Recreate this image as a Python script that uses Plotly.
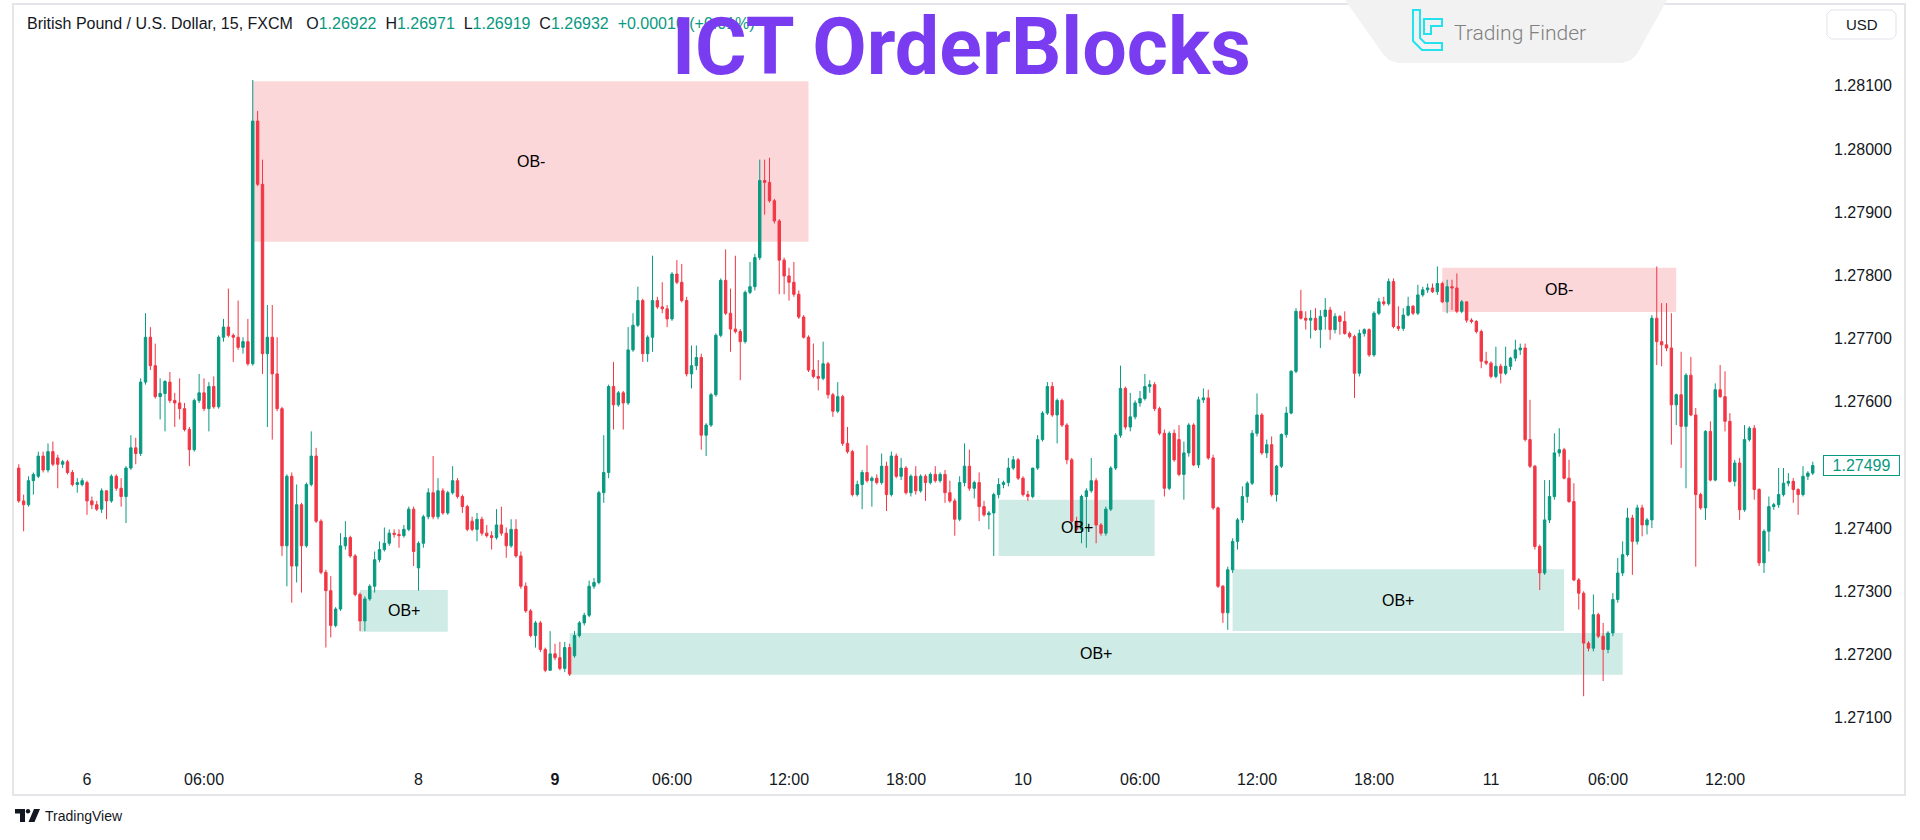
import plotly.graph_objects as go

# ---------------- data (15-minute GBP/USD candles) ----------------
opens = [
    1.27495, 1.27443, 1.27437, 1.27475, 1.27482, 1.27514, 1.27492, 1.27521, 1.27511, 1.27501,
    1.27505, 1.27488, 1.27469, 1.27469, 1.27472, 1.27443, 1.27437, 1.27430, 1.27459, 1.27443,
    1.27482, 1.27463, 1.27450, 1.27495, 1.27527, 1.27518, 1.27631, 1.27702, 1.27657, 1.27608,
    1.27613, 1.27631, 1.27602, 1.27598, 1.27589, 1.27556, 1.27524, 1.27602, 1.27614, 1.27589,
    1.27624, 1.27592, 1.27702, 1.27718, 1.27705, 1.27702, 1.27686, 1.27695, 1.27660, 1.28044,
    1.27944, 1.27676, 1.27702, 1.27644, 1.27589, 1.27372, 1.27482, 1.27340, 1.27437, 1.27372,
    1.27469, 1.27514, 1.27411, 1.27330, 1.27301, 1.27246, 1.27272, 1.27372, 1.27385, 1.27356,
    1.27295, 1.27253, 1.27288, 1.27308, 1.27350, 1.27366, 1.27376, 1.27392, 1.27390, 1.27388,
    1.27398, 1.27430, 1.27337, 1.27376, 1.27418, 1.27456, 1.27418, 1.27459, 1.27424, 1.27456,
    1.27475, 1.27450, 1.27434, 1.27411, 1.27398, 1.27414, 1.27392, 1.27388, 1.27385, 1.27405,
    1.27392, 1.27372, 1.27398, 1.27356, 1.27308, 1.27269, 1.27230, 1.27250, 1.27208, 1.27175,
    1.27201, 1.27195, 1.27178, 1.27211, 1.27198, 1.27230, 1.27250, 1.27262, 1.27308, 1.27314,
    1.27456, 1.27488, 1.27624, 1.27595, 1.27614, 1.27598, 1.27682, 1.27721, 1.27760, 1.27676,
    1.27702, 1.27760, 1.27750, 1.27747, 1.27731, 1.27802, 1.27789, 1.27760, 1.27644, 1.27657,
    1.27670, 1.27547, 1.27563, 1.27611, 1.27705, 1.27792, 1.27740, 1.27715, 1.27711, 1.27695,
    1.27773, 1.27782, 1.27828, 1.27950, 1.27947, 1.27918, 1.27886, 1.27824, 1.27799, 1.27789,
    1.27770, 1.27734, 1.27702, 1.27650, 1.27640, 1.27637, 1.27660, 1.27611, 1.27585, 1.27608,
    1.27534, 1.27521, 1.27453, 1.27469, 1.27488, 1.27475, 1.27479, 1.27472, 1.27498, 1.27453,
    1.27514, 1.27482, 1.27495, 1.27456, 1.27482, 1.27459, 1.27482, 1.27472, 1.27485, 1.27475,
    1.27485, 1.27456, 1.27443, 1.27414, 1.27472, 1.27498, 1.27463, 1.27472, 1.27434, 1.27421,
    1.27424, 1.27453, 1.27469, 1.27472, 1.27495, 1.27508, 1.27479, 1.27453, 1.27450, 1.27495,
    1.27540, 1.27582, 1.27624, 1.27579, 1.27602, 1.27563, 1.27508, 1.27411, 1.27398, 1.27450,
    1.27459, 1.27475, 1.27405, 1.27392, 1.27430, 1.27495, 1.27547, 1.27621, 1.27560, 1.27576,
    1.27598, 1.27605, 1.27624, 1.27627, 1.27589, 1.27550, 1.27463, 1.27550, 1.27540, 1.27485,
    1.27519, 1.27563, 1.27500, 1.27603, 1.27606, 1.27511, 1.27432, 1.27308, 1.27266, 1.27334,
    1.27379, 1.27413, 1.27450, 1.27471, 1.27550, 1.27579, 1.27519, 1.27532, 1.27453, 1.27498,
    1.27548, 1.27582, 1.27648, 1.27743, 1.27732, 1.27729, 1.27732, 1.27714, 1.27735, 1.27745,
    1.27714, 1.27735, 1.27727, 1.27708, 1.27703, 1.27645, 1.27708, 1.27714, 1.27674, 1.27740,
    1.27758, 1.27755, 1.27790, 1.27719, 1.27716, 1.27737, 1.27751, 1.27740, 1.27769, 1.27777,
    1.27780, 1.27774, 1.27787, 1.27758, 1.27782, 1.27780, 1.27743, 1.27758, 1.27729, 1.27727,
    1.27711, 1.27664, 1.27661, 1.27640, 1.27656, 1.27645, 1.27656, 1.27669, 1.27682, 1.27685,
    1.27540, 1.27498, 1.27371, 1.27329, 1.27413, 1.27450, 1.27519, 1.27524, 1.27479, 1.27442,
    1.27318, 1.27297, 1.27218, 1.27210, 1.27263, 1.27229, 1.27208, 1.27234, 1.27287, 1.27329,
    1.27358, 1.27416, 1.27379, 1.27432, 1.27405, 1.27413, 1.27732, 1.27695, 1.27690, 1.27685,
    1.27595, 1.27611, 1.27561, 1.27642, 1.27579, 1.27453, 1.27432, 1.27553, 1.27476, 1.27619,
    1.27608, 1.27569, 1.27474, 1.27503, 1.27429, 1.27540, 1.27558, 1.27461, 1.27345, 1.27395,
    1.27434, 1.27437, 1.27453, 1.27471, 1.27474, 1.27461, 1.27453, 1.27482, 1.27487,
]
highs = [
    1.27501, 1.27453, 1.27482, 1.27488, 1.27521, 1.27521, 1.27534, 1.27537, 1.27516, 1.27508,
    1.27508, 1.27492, 1.27479, 1.27479, 1.27475, 1.27450, 1.27443, 1.27463, 1.27459, 1.27485,
    1.27485, 1.27479, 1.27498, 1.27547, 1.27543, 1.27637, 1.27740, 1.27718, 1.27692, 1.27637,
    1.27634, 1.27647, 1.27614, 1.27637, 1.27598, 1.27560, 1.27605, 1.27644, 1.27637, 1.27631,
    1.27640, 1.27705, 1.27731, 1.27779, 1.27708, 1.27760, 1.27702, 1.27731, 1.28109, 1.28060,
    1.27983, 1.27753, 1.27753, 1.27702, 1.27592, 1.27485, 1.27488, 1.27469, 1.27440, 1.27472,
    1.27553, 1.27527, 1.27414, 1.27334, 1.27324, 1.27275, 1.27392, 1.27411, 1.27388, 1.27359,
    1.27298, 1.27292, 1.27311, 1.27363, 1.27379, 1.27401, 1.27398, 1.27398, 1.27398, 1.27405,
    1.27434, 1.27434, 1.27379, 1.27421, 1.27463, 1.27514, 1.27479, 1.27463, 1.27459, 1.27498,
    1.27479, 1.27453, 1.27437, 1.27418, 1.27424, 1.27418, 1.27405, 1.27395, 1.27430, 1.27434,
    1.27401, 1.27414, 1.27414, 1.27363, 1.27314, 1.27272, 1.27253, 1.27253, 1.27211, 1.27237,
    1.27217, 1.27220, 1.27220, 1.27217, 1.27237, 1.27253, 1.27266, 1.27317, 1.27321, 1.27459,
    1.27547, 1.27627, 1.27663, 1.27617, 1.27617, 1.27718, 1.27740, 1.27782, 1.27763, 1.27705,
    1.27831, 1.27766, 1.27789, 1.27753, 1.27805, 1.27824, 1.27818, 1.27766, 1.27689, 1.27689,
    1.27676, 1.27566, 1.27614, 1.27708, 1.27795, 1.27841, 1.27779, 1.27831, 1.27715, 1.27776,
    1.27821, 1.27834, 1.27983, 1.27983, 1.27986, 1.27921, 1.27889, 1.27828, 1.27812, 1.27821,
    1.27776, 1.27737, 1.27705, 1.27692, 1.27666, 1.27695, 1.27663, 1.27614, 1.27631, 1.27611,
    1.27560, 1.27524, 1.27475, 1.27492, 1.27531, 1.27482, 1.27485, 1.27518, 1.27505, 1.27521,
    1.27518, 1.27511, 1.27498, 1.27485, 1.27498, 1.27485, 1.27485, 1.27488, 1.27498, 1.27488,
    1.27492, 1.27475, 1.27447, 1.27482, 1.27534, 1.27524, 1.27475, 1.27488, 1.27443, 1.27427,
    1.27456, 1.27479, 1.27475, 1.27511, 1.27514, 1.27511, 1.27482, 1.27459, 1.27495, 1.27547,
    1.27585, 1.27631, 1.27631, 1.27605, 1.27605, 1.27566, 1.27511, 1.27418, 1.27453, 1.27463,
    1.27511, 1.27479, 1.27408, 1.27434, 1.27498, 1.27550, 1.27657, 1.27624, 1.27614, 1.27602,
    1.27617, 1.27644, 1.27634, 1.27631, 1.27592, 1.27556, 1.27553, 1.27556, 1.27563, 1.27537,
    1.27566, 1.27566, 1.27608, 1.27621, 1.27619, 1.27516, 1.27434, 1.27310, 1.27339, 1.27384,
    1.27416, 1.27466, 1.27474, 1.27555, 1.27613, 1.27582, 1.27540, 1.27545, 1.27500, 1.27550,
    1.27592, 1.27650, 1.27748, 1.27777, 1.27743, 1.27745, 1.27748, 1.27745, 1.27764, 1.27750,
    1.27740, 1.27737, 1.27743, 1.27711, 1.27706, 1.27714, 1.27716, 1.27716, 1.27743, 1.27764,
    1.27766, 1.27795, 1.27795, 1.27751, 1.27748, 1.27766, 1.27753, 1.27785, 1.27782, 1.27787,
    1.27787, 1.27814, 1.27790, 1.27793, 1.27793, 1.27803, 1.27761, 1.27758, 1.27732, 1.27729,
    1.27714, 1.27679, 1.27664, 1.27687, 1.27660, 1.27687, 1.27671, 1.27698, 1.27692, 1.27692,
    1.27603, 1.27500, 1.27374, 1.27476, 1.27476, 1.27550, 1.27558, 1.27527, 1.27508, 1.27471,
    1.27321, 1.27300, 1.27221, 1.27295, 1.27266, 1.27250, 1.27237, 1.27297, 1.27353, 1.27379,
    1.27432, 1.27421, 1.27437, 1.27437, 1.27416, 1.27737, 1.27814, 1.27756, 1.27756, 1.27740,
    1.27613, 1.27679, 1.27645, 1.27671, 1.27590, 1.27456, 1.27555, 1.27569, 1.27629, 1.27658,
    1.27648, 1.27582, 1.27508, 1.27511, 1.27563, 1.27561, 1.27563, 1.27463, 1.27398, 1.27450,
    1.27440, 1.27495, 1.27495, 1.27487, 1.27479, 1.27463, 1.27498, 1.27490, 1.27505,
]
lows = [
    1.27440, 1.27395, 1.27434, 1.27453, 1.27479, 1.27488, 1.27488, 1.27498, 1.27463, 1.27495,
    1.27485, 1.27466, 1.27456, 1.27466, 1.27421, 1.27430, 1.27427, 1.27424, 1.27414, 1.27440,
    1.27459, 1.27434, 1.27408, 1.27492, 1.27501, 1.27514, 1.27627, 1.27650, 1.27605, 1.27572,
    1.27553, 1.27598, 1.27560, 1.27572, 1.27553, 1.27498, 1.27521, 1.27598, 1.27585, 1.27553,
    1.27589, 1.27589, 1.27695, 1.27702, 1.27663, 1.27682, 1.27676, 1.27657, 1.27657, 1.27941,
    1.27644, 1.27560, 1.27540, 1.27585, 1.27356, 1.27308, 1.27282, 1.27314, 1.27298, 1.27369,
    1.27466, 1.27408, 1.27327, 1.27211, 1.27227, 1.27243, 1.27269, 1.27366, 1.27353, 1.27292,
    1.27237, 1.27237, 1.27285, 1.27298, 1.27346, 1.27363, 1.27372, 1.27385, 1.27369, 1.27385,
    1.27395, 1.27340, 1.27301, 1.27369, 1.27414, 1.27414, 1.27414, 1.27421, 1.27421, 1.27453,
    1.27447, 1.27424, 1.27395, 1.27395, 1.27379, 1.27388, 1.27385, 1.27366, 1.27382, 1.27388,
    1.27353, 1.27369, 1.27353, 1.27304, 1.27266, 1.27227, 1.27211, 1.27204, 1.27172, 1.27175,
    1.27191, 1.27175, 1.27172, 1.27166, 1.27195, 1.27227, 1.27246, 1.27259, 1.27304, 1.27311,
    1.27440, 1.27479, 1.27556, 1.27592, 1.27556, 1.27595, 1.27679, 1.27718, 1.27663, 1.27663,
    1.27679, 1.27747, 1.27740, 1.27718, 1.27728, 1.27786, 1.27757, 1.27640, 1.27621, 1.27650,
    1.27524, 1.27514, 1.27560, 1.27608, 1.27702, 1.27737, 1.27679, 1.27708, 1.27634, 1.27692,
    1.27770, 1.27776, 1.27824, 1.27896, 1.27915, 1.27882, 1.27770, 1.27770, 1.27760, 1.27766,
    1.27731, 1.27700, 1.27647, 1.27637, 1.27618, 1.27634, 1.27605, 1.27576, 1.27582, 1.27530,
    1.27518, 1.27450, 1.27450, 1.27430, 1.27472, 1.27434, 1.27469, 1.27469, 1.27427, 1.27450,
    1.27479, 1.27476, 1.27453, 1.27450, 1.27453, 1.27456, 1.27443, 1.27469, 1.27472, 1.27472,
    1.27440, 1.27440, 1.27388, 1.27411, 1.27466, 1.27459, 1.27447, 1.27411, 1.27418, 1.27398,
    1.27356, 1.27447, 1.27463, 1.27466, 1.27492, 1.27476, 1.27450, 1.27443, 1.27447, 1.27492,
    1.27537, 1.27579, 1.27576, 1.27534, 1.27560, 1.27501, 1.27408, 1.27395, 1.27376, 1.27369,
    1.27456, 1.27376, 1.27388, 1.27388, 1.27427, 1.27492, 1.27543, 1.27556, 1.27553, 1.27572,
    1.27592, 1.27602, 1.27614, 1.27585, 1.27547, 1.27450, 1.27460, 1.27505, 1.27482, 1.27445,
    1.27513, 1.27498, 1.27495, 1.27598, 1.27508, 1.27429, 1.27305, 1.27250, 1.27239, 1.27329,
    1.27366, 1.27408, 1.27440, 1.27468, 1.27545, 1.27516, 1.27511, 1.27450, 1.27442, 1.27495,
    1.27543, 1.27580, 1.27645, 1.27730, 1.27714, 1.27700, 1.27712, 1.27685, 1.27714, 1.27698,
    1.27708, 1.27706, 1.27706, 1.27700, 1.27606, 1.27640, 1.27703, 1.27671, 1.27671, 1.27737,
    1.27752, 1.27752, 1.27716, 1.27712, 1.27712, 1.27735, 1.27737, 1.27737, 1.27766, 1.27772,
    1.27772, 1.27769, 1.27756, 1.27740, 1.27745, 1.27740, 1.27740, 1.27725, 1.27724, 1.27708,
    1.27653, 1.27658, 1.27637, 1.27637, 1.27629, 1.27642, 1.27650, 1.27664, 1.27674, 1.27537,
    1.27495, 1.27366, 1.27302, 1.27326, 1.27408, 1.27445, 1.27513, 1.27477, 1.27440, 1.27316,
    1.27271, 1.27134, 1.27205, 1.27205, 1.27226, 1.27158, 1.27202, 1.27229, 1.27282, 1.27324,
    1.27355, 1.27326, 1.27374, 1.27387, 1.27390, 1.27400, 1.27658, 1.27656, 1.27680, 1.27532,
    1.27563, 1.27495, 1.27463, 1.27577, 1.27339, 1.27429, 1.27413, 1.27474, 1.27474, 1.27606,
    1.27553, 1.27472, 1.27466, 1.27413, 1.27426, 1.27537, 1.27445, 1.27340, 1.27329, 1.27363,
    1.27429, 1.27432, 1.27450, 1.27466, 1.27440, 1.27421, 1.27450, 1.27476, 1.27484,
]
closes = [
    1.27443, 1.27437, 1.27475, 1.27485, 1.27514, 1.27492, 1.27521, 1.27501, 1.27501, 1.27505,
    1.27488, 1.27469, 1.27472, 1.27475, 1.27443, 1.27437, 1.27430, 1.27459, 1.27443, 1.27482,
    1.27463, 1.27450, 1.27495, 1.27527, 1.27518, 1.27631, 1.27702, 1.27657, 1.27608, 1.27613,
    1.27632, 1.27602, 1.27598, 1.27589, 1.27556, 1.27524, 1.27602, 1.27614, 1.27589, 1.27624,
    1.27592, 1.27702, 1.27718, 1.27705, 1.27702, 1.27686, 1.27695, 1.27660, 1.28044, 1.27944,
    1.27676, 1.27702, 1.27644, 1.27589, 1.27372, 1.27482, 1.27340, 1.27437, 1.27372, 1.27469,
    1.27514, 1.27411, 1.27330, 1.27301, 1.27246, 1.27272, 1.27372, 1.27385, 1.27356, 1.27295,
    1.27253, 1.27288, 1.27308, 1.27350, 1.27366, 1.27376, 1.27392, 1.27390, 1.27388, 1.27398,
    1.27430, 1.27363, 1.27376, 1.27418, 1.27456, 1.27418, 1.27459, 1.27424, 1.27456, 1.27475,
    1.27450, 1.27434, 1.27398, 1.27398, 1.27414, 1.27392, 1.27388, 1.27385, 1.27405, 1.27392,
    1.27372, 1.27398, 1.27356, 1.27308, 1.27269, 1.27230, 1.27250, 1.27208, 1.27175, 1.27201,
    1.27195, 1.27178, 1.27211, 1.27169, 1.27230, 1.27250, 1.27262, 1.27308, 1.27314, 1.27456,
    1.27488, 1.27624, 1.27595, 1.27614, 1.27598, 1.27682, 1.27721, 1.27760, 1.27676, 1.27702,
    1.27760, 1.27750, 1.27747, 1.27731, 1.27802, 1.27789, 1.27760, 1.27644, 1.27657, 1.27670,
    1.27547, 1.27563, 1.27611, 1.27705, 1.27792, 1.27740, 1.27715, 1.27711, 1.27695, 1.27773,
    1.27782, 1.27828, 1.27950, 1.27947, 1.27918, 1.27886, 1.27824, 1.27799, 1.27789, 1.27770,
    1.27734, 1.27702, 1.27650, 1.27640, 1.27637, 1.27660, 1.27611, 1.27585, 1.27608, 1.27534,
    1.27521, 1.27453, 1.27469, 1.27488, 1.27475, 1.27479, 1.27472, 1.27498, 1.27453, 1.27514,
    1.27482, 1.27495, 1.27456, 1.27482, 1.27459, 1.27482, 1.27472, 1.27485, 1.27475, 1.27485,
    1.27456, 1.27443, 1.27414, 1.27472, 1.27498, 1.27463, 1.27472, 1.27434, 1.27421, 1.27424,
    1.27453, 1.27469, 1.27472, 1.27495, 1.27508, 1.27479, 1.27453, 1.27450, 1.27495, 1.27540,
    1.27582, 1.27624, 1.27579, 1.27602, 1.27563, 1.27508, 1.27411, 1.27398, 1.27450, 1.27459,
    1.27475, 1.27405, 1.27392, 1.27430, 1.27495, 1.27547, 1.27621, 1.27560, 1.27576, 1.27598,
    1.27605, 1.27624, 1.27627, 1.27589, 1.27550, 1.27463, 1.27550, 1.27508, 1.27485, 1.27519,
    1.27563, 1.27500, 1.27603, 1.27606, 1.27511, 1.27432, 1.27308, 1.27266, 1.27334, 1.27379,
    1.27413, 1.27450, 1.27471, 1.27550, 1.27579, 1.27519, 1.27532, 1.27453, 1.27498, 1.27548,
    1.27582, 1.27648, 1.27743, 1.27732, 1.27729, 1.27732, 1.27714, 1.27735, 1.27745, 1.27714,
    1.27735, 1.27727, 1.27708, 1.27703, 1.27645, 1.27708, 1.27714, 1.27674, 1.27740, 1.27758,
    1.27755, 1.27790, 1.27719, 1.27716, 1.27737, 1.27751, 1.27740, 1.27769, 1.27777, 1.27780,
    1.27774, 1.27787, 1.27758, 1.27782, 1.27780, 1.27743, 1.27758, 1.27729, 1.27727, 1.27711,
    1.27664, 1.27661, 1.27640, 1.27656, 1.27645, 1.27656, 1.27669, 1.27682, 1.27685, 1.27540,
    1.27498, 1.27371, 1.27329, 1.27413, 1.27450, 1.27519, 1.27524, 1.27479, 1.27442, 1.27318,
    1.27297, 1.27218, 1.27210, 1.27263, 1.27229, 1.27208, 1.27234, 1.27287, 1.27329, 1.27358,
    1.27416, 1.27379, 1.27432, 1.27405, 1.27413, 1.27732, 1.27695, 1.27690, 1.27685, 1.27595,
    1.27611, 1.27561, 1.27642, 1.27579, 1.27453, 1.27432, 1.27553, 1.27476, 1.27619, 1.27608,
    1.27569, 1.27474, 1.27503, 1.27429, 1.27540, 1.27558, 1.27461, 1.27345, 1.27395, 1.27434,
    1.27437, 1.27453, 1.27471, 1.27474, 1.27461, 1.27453, 1.27482, 1.27487, 1.27499,
]
bar_index = list(range(len(opens)))

# time-axis labels (bar index -> label)
time_tick_bars = [14, 38, 82, 110, 134, 158, 182, 206, 230, 254, 278, 302, 326, 350]
time_tick_text = ["6", "06:00", "8", "<b>9</b>", "06:00", "12:00", "18:00",
                  "10", "06:00", "12:00", "18:00", "11", "06:00", "12:00"]

# price-axis labels (1.27500 is hidden behind the last-price tag)
price_ticks = [1.271, 1.272, 1.273, 1.274, 1.276, 1.277, 1.278, 1.279, 1.280, 1.281]
last_price = 1.27499

# order blocks: label, first bar, last bar, top price, bottom price
ob_label = ["OB-", "OB+", "OB+", "OB+", "OB+", "OB-"]
ob_start = [48, 70, 113, 201, 249, 292]
ob_end = [162, 88, 329, 233, 317, 340]
ob_top = [1.28107, 1.27302, 1.27234, 1.27445, 1.27335, 1.27812]
ob_bottom = [1.27853, 1.27236, 1.27168, 1.27356, 1.27237, 1.27742]

# legend line values
symbol_name = "British Pound / U.S. Dollar, 15, FXCM"
ohlc_keys = ["O", "H", "L", "C"]
ohlc_vals = ["1.26922", "1.26971", "1.26919", "1.26932"]
change_txt = "+0.00010 (+0.01%)"

# ---------------- styling / layout helpers ----------------
W, H = 1920, 840
PL, PT, PR, PB = 15, 5, 1820, 760          # plot area in pixels
GREEN, RED = "#089981", "#F23645"
TXT = "#131722"
FONT = "Liberation Sans"


def fx(px):
    return (px - PL) / (PR - PL)


def fy(py):
    return (PB - py) / (PB - PT)


def path(points, close=True):
    s = "M " + " L ".join(f"{fx(x):.6f},{fy(y):.6f}" for x, y in points)
    return s + (" Z" if close else "")


fig = go.Figure()
fig.add_trace(go.Candlestick(
    x=bar_index, open=opens, high=highs, low=lows, close=closes,
    increasing=dict(line=dict(color=GREEN, width=1), fillcolor=GREEN),
    decreasing=dict(line=dict(color=RED, width=1), fillcolor=RED),
    whiskerwidth=0, hoverinfo="skip", showlegend=False,
))

shapes = []
annotations = []

# order block zones
for lab, s, e, t, b in zip(ob_label, ob_start, ob_end, ob_top, ob_bottom):
    fill = "rgba(242,54,69,0.20)" if lab == "OB-" else "rgba(8,153,129,0.20)"
    shapes.append(dict(type="rect", xref="x", yref="y", x0=s, x1=e, y0=b, y1=t,
                       fillcolor=fill, line=dict(width=0), layer="below"))
    annotations.append(dict(x=(s + e) / 2, y=(t + b) / 2, xref="x", yref="y", text=lab,
                            showarrow=False, font=dict(family=FONT, size=16, color="#000000"),
                            xanchor="center", yanchor="middle"))

# chart frame
shapes.append(dict(type="rect", xref="paper", yref="paper", x0=fx(13), x1=fx(1905),
                   y0=fy(795), y1=fy(4), line=dict(color="#E3E5E8", width=2),
                   fillcolor="rgba(0,0,0,0)", layer="above"))

# Trading Finder tab
shapes.append(dict(type="path", xref="paper", yref="paper", layer="above",
                   path=path([(1345, 0), (1667, 0), (1637, 54), (1631, 60), (1622, 63),
                              (1398, 63), (1389, 60), (1383, 54)]),
                   fillcolor="#F2F2F2", line=dict(width=0)))
CYAN = "#22E2EE"
shapes.append(dict(type="path", xref="paper", yref="paper", layer="above",
                   path=path([(1413, 10), (1420, 10), (1420, 38), (1425, 43), (1442, 43),
                              (1442, 50), (1422, 50), (1413, 41)]),
                   fillcolor="rgba(0,0,0,0)", line=dict(color=CYAN, width=2)))
shapes.append(dict(type="path", xref="paper", yref="paper", layer="above",
                   path=path([(1424, 19), (1442, 19), (1442, 26), (1431, 26), (1431, 34),
                              (1424, 34)]),
                   fillcolor="rgba(0,0,0,0)", line=dict(color=CYAN, width=2)))

# USD button
shapes.append(dict(type="path", xref="paper", yref="paper", layer="above",
                   path=path([(1831, 10), (1892, 10), (1896, 14), (1896, 35), (1892, 39),
                              (1831, 39), (1827, 35), (1827, 14)]),
                   fillcolor="#FFFFFF", line=dict(color="#E0E3EB", width=1)))

# TradingView logo mark
shapes.append(dict(type="path", xref="paper", yref="paper", layer="above",
                   path=path([(15, 809), (25, 809), (25, 822), (20, 822), (20, 813.5), (15, 813.5)]),
                   fillcolor=TXT, line=dict(width=0)))
shapes.append(dict(type="circle", xref="paper", yref="paper", layer="above",
                   x0=fx(25.8), x1=fx(30.2), y0=fy(813.4), y1=fy(809),
                   fillcolor=TXT, line=dict(width=0)))
shapes.append(dict(type="path", xref="paper", yref="paper", layer="above",
                   path=path([(34, 809), (40, 809), (34.5, 822), (28.5, 822)]),
                   fillcolor=TXT, line=dict(width=0)))

# header legend line
hdr = symbol_name + "\u00a0\u00a0\u00a0"
for k, v in zip(ohlc_keys, ohlc_vals):
    hdr += f"{k}<span style='color:{GREEN}'>{v}</span>\u00a0\u00a0"
hdr += f"<span style='color:{GREEN}'>{change_txt}</span>"
annotations.append(dict(x=fx(25), y=fy(24), xref="paper", yref="paper", text=hdr,
                        showarrow=False, xanchor="left", yanchor="middle",
                        font=dict(family=FONT, size=16, color=TXT)))

# Trading Finder text
annotations.append(dict(x=fx(1452), y=fy(33), xref="paper", yref="paper", text="Trading Finder",
                        showarrow=False, xanchor="left", yanchor="middle",
                        font=dict(family="Roboto", size=21, color="#808080", weight=300)))
# USD text
annotations.append(dict(x=fx(1861.5), y=fy(24.5), xref="paper", yref="paper", text="USD",
                        showarrow=False, xanchor="center", yanchor="middle",
                        font=dict(family=FONT, size=15, color=TXT)))
# TradingView text
annotations.append(dict(x=fx(43), y=fy(815.5), xref="paper", yref="paper", text="TradingView",
                        showarrow=False, xanchor="left", yanchor="middle",
                        font=dict(family=FONT, size=14, color=TXT)))
# last price tag
annotations.append(dict(x=fx(1823), y=last_price, xref="paper", yref="y", text=f"{last_price:.5f}",
                        showarrow=False, xanchor="left", yanchor="middle",
                        width=73, height=17, align="center",
                        bgcolor="#FFFFFF", bordercolor=GREEN, borderwidth=1, borderpad=1,
                        font=dict(family=FONT, size=16, color=GREEN)))
# title
annotations.append(dict(x=fx(961), y=fy(47), xref="paper", yref="paper",
                        text="<b>ICT OrderBlocks</b>", showarrow=False,
                        xanchor="center", yanchor="middle",
                        font=dict(family="Roboto", size=79, color="#7A3CF0")))

x_lo = (PL - 18.75) / 4.875
x_hi = (PR - 18.75) / 4.875
y_hi = 1.281 + (85.7 - PT) / 63200
y_lo = 1.281 - (PB - 85.7) / 63200

fig.update_layout(
    width=W, height=H,
    margin=dict(l=PL, r=W - PR, t=PT, b=H - PB, pad=0),
    paper_bgcolor="#FFFFFF", plot_bgcolor="#FFFFFF",
    showlegend=False, hovermode=False, dragmode=False,
    shapes=shapes, annotations=annotations,
    xaxis=dict(range=[x_lo, x_hi], rangeslider=dict(visible=False), showgrid=False,
               zeroline=False, showline=False, ticks="", tickmode="array",
               tickvals=time_tick_bars, ticktext=time_tick_text, ticklabelstandoff=8,
               tickfont=dict(family=FONT, size=16, color=TXT), fixedrange=True),
    yaxis=dict(range=[y_lo, y_hi], side="right", showgrid=False, zeroline=False,
               showline=False, ticks="", tickmode="array", tickvals=price_ticks,
               ticktext=[f"{v:.5f}" for v in price_ticks], ticklabelstandoff=13,
               tickfont=dict(family=FONT, size=16, color=TXT), fixedrange=True),
)

fig.write_html("out.html", config={"displayModeBar": False},
               post_script="document.body.style.margin='0px';document.body.style.overflow='hidden';")
